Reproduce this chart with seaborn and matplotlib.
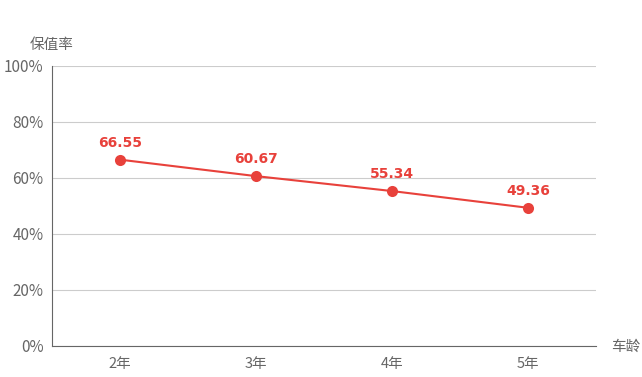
import matplotlib
matplotlib.use("Agg")
import matplotlib.pyplot as plt
import seaborn as sns
import pandas as pd

categories = ["2年", "3年", "4年", "5年"]
values = [66.55, 60.67, 55.34, 49.36]
yticks = [0, 20, 40, 60, 80, 100]
ytick_labels = ["0%", "20%", "40%", "60%", "80%", "100%"]

sns.set_theme(style="white")
plt.rcParams['font.family'] = ['Noto Sans CJK SC', 'DejaVu Sans']

df = pd.DataFrame({"age": categories, "rate": values})
df["x"] = range(len(categories))

fig = plt.figure(figsize=(6.42, 3.77), dpi=100)
ax = fig.add_axes([52/642, 1-346/377, 544/642, 280/377])
color = "#e8413b"
sns.lineplot(data=df, x="x", y="rate", ax=ax, color=color, linewidth=1.5,
             marker="o", markersize=8, markeredgewidth=0, zorder=3)
for xi, v in zip(df["x"], df["rate"]):
    ax.annotate(f"{v:.2f}", (xi, v), xytext=(0, 7), textcoords="offset points",
                ha="center", va="bottom", color=color, fontsize=10, fontweight="bold",
                family=['DejaVu Sans'])

ax.set_xlim(-0.5, len(categories) - 0.5)
ax.set_ylim(0, 100)
ax.set_xticks(range(len(categories)))
ax.set_xticklabels(categories, color="#666666", fontsize=10.5)
ax.set_yticks(yticks)
ax.set_yticklabels(ytick_labels, color="#666666", fontsize=11)
ax.yaxis.grid(True, color="#cccccc", linewidth=0.8)
ax.set_axisbelow(True)
for s in ["top", "right"]:
    ax.spines[s].set_visible(False)
ax.spines["left"].set_color("#666666")
ax.spines["bottom"].set_color("#666666")
ax.spines["left"].set_linewidth(0.8)
ax.spines["bottom"].set_linewidth(0.8)
ax.tick_params(axis="both", length=0, pad=6)
ax.tick_params(axis="x", pad=8)
ax.set_xlabel("")
ax.set_ylabel("")
fig.text(52/642, 1-45/377, "保值率", ha="center", va="center", color="#666666", fontsize=10.5)
fig.text(626/642, 1-347/377, "车龄", ha="center", va="center", color="#666666", fontsize=10.5)

fig.savefig("out.png", dpi=100)
